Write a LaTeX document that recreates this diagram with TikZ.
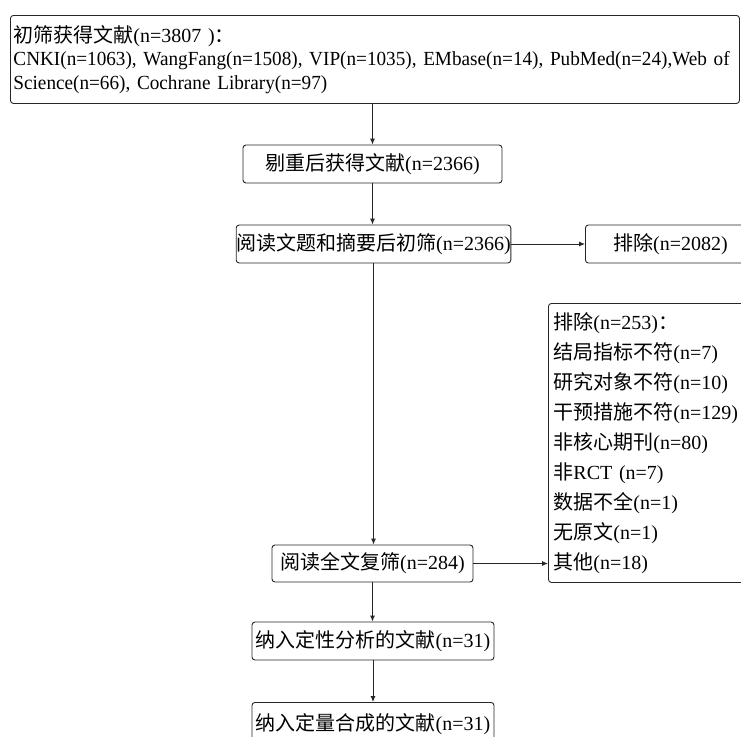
\documentclass[tikz,border=0pt]{standalone}
\usepackage{fontspec}
\setmainfont{Liberation Serif}
\newfontfamily\narrowlat{Liberation Serif}[FakeStretch=0.96]
\newfontfamily\cjk{Noto Sans CJK SC}
\newcommand\zh[1]{{\cjk #1}}
\usetikzlibrary{arrows.meta}
\begin{document}
\begin{tikzpicture}[x=1pt,y=-1pt,
  box/.style={draw=black!85, line width=0.9pt, rounded corners=3pt, inner sep=0pt,
    font=\fontsize{20}{24}\selectfont},
  arr/.style={draw=black!85, line width=0.9pt, -{Latex[length=6pt,width=5pt]}}]
\useasboundingbox (0,0) rectangle (741,736);
\clip (0,0) rectangle (741,736);
\node[box, anchor=north west, minimum width=729, minimum height=88, text width=723,
  inner xsep=3pt, align=left] (a) at (10,15)
  {\zh{初筛获得文献}(n=3807 )\zh{：}\\[-0.5pt]
   {\narrowlat CNKI(n=1063), WangFang(n=1508), VIP(n=1035), EMbase(n=14), PubMed(n=24),Web of}\\[-0.5pt]
   {\narrowlat Science(n=66), Cochrane Library(n=97)}};
\node[box, minimum width=259, minimum height=38] (b) at (372.5,164) {\zh{剔重后获得文献}(n=2366)};
\node[box, minimum width=273, minimum height=38] (c) at (373.5,244) {\zh{阅读文题和摘要后初筛}(n=2366)};
\node[box, anchor=west, minimum width=170, minimum height=38] (d) at (585,244) {\zh{排除}(n=2082)};
\node[box, minimum width=201, minimum height=37] (e) at (372.5,563.5) {\zh{阅读全文复筛}(n=284)};
\node[box, anchor=north west, minimum width=215, minimum height=279, text width=205,
  inner xsep=5pt, align=left, font=\fontsize{20}{30}\selectfont] (f) at (548,303)
  {\zh{排除}(n=253)\zh{：}\\
   \zh{结局指标不符}(n=7)\\
   \zh{研究对象不符}(n=10)\\
   \zh{干预措施不符}(n=129)\\
   \zh{非核心期刊}(n=80)\\
   \zh{非}RCT (n=7)\\
   \zh{数据不全}(n=1)\\
   \zh{无原文}(n=1)\\
   \zh{其他}(n=18)};
\node[box, minimum width=242, minimum height=38] (g) at (373,641) {\zh{纳入定性分析的文献}(n=31)};
\node[box, anchor=north, minimum width=242, minimum height=43] (h) at (373,702) {\zh{纳入定量合成的文献}(n=31)};
\draw[arr] (b.north |- a.south) -- (b.north);
\draw[arr] (b.south) -- (b.south |- c.north);
\draw[arr] (c.east) -- (d.west);
\draw[arr] (c.south) -- (c.south |- e.north);
\draw[arr] (e.east) -- (e.east -| f.west);
\draw[arr] (e.south) -- (e.south |- g.north);
\draw[arr] (g.south) -- (g.south |- h.north);
\end{tikzpicture}
\end{document}
